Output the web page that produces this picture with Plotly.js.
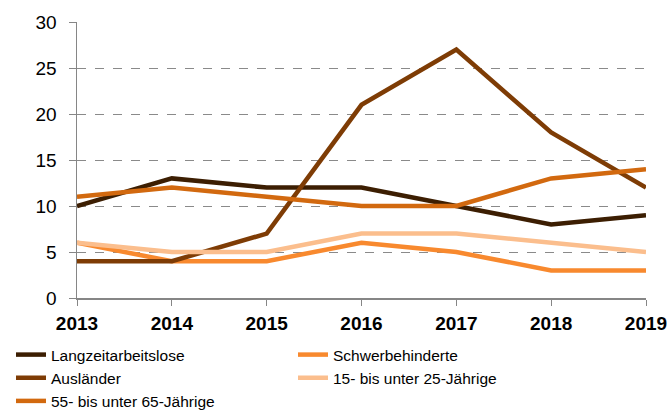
<!DOCTYPE html>
<html><head><meta charset="utf-8">
<script src="https://cdn.plot.ly/plotly-3.0.1.min.js"></script>
<style>html,body{margin:0;padding:0;background:#fff}#c{width:672px;height:410px}</style>
</head><body><div id="c"></div>
<script>
const years = [2013, 2014, 2015, 2016, 2017, 2018, 2019];
const seriesNames = ["Langzeitarbeitslose", "Schwerbehinderte", "Ausländer", "15- bis unter 25-Jährige", "55- bis unter 65-Jährige"];
const langzeit = [10, 13, 12, 12, 10, 8, 9];
const schwer = [6, 4, 4, 6, 5, 3, 3];
const auslaender = [4, 4, 7, 21, 27, 18, 12];
const jung = [6, 5, 5, 7, 7, 6, 5];
const alt = [11, 12, 11, 10, 10, 13, 14];
const colors = ["#3C1E02", "#F8892E", "#7E3C05", "#FBBE8D", "#D2690F"];
const values = [langzeit, schwer, auslaender, jung, alt];

const traces = values.map((v, i) => ({
  x: years, y: v, name: seriesNames[i], type: "scatter", mode: "lines",
  line: {color: colors[i], width: 4.5}
}));
const font = "Liberation Sans, Arial, sans-serif";
Plotly.newPlot("c", traces, {
  width: 672, height: 410,
  margin: {l: 77, r: 26, t: 22, b: 112, autoexpand: false},
  paper_bgcolor: "#fff", plot_bgcolor: "#fff",
  font: {family: font, color: "#000"},
  xaxis: {
    range: [2013, 2019], tickvals: years, ticktext: years.map(String),
    showgrid: false, zeroline: false, showline: true, linecolor: "#868686", linewidth: 1.5,
    ticks: "outside", ticklen: 6, tickcolor: "#868686", ticklabelstandoff: 2,
    tickfont: {family: font, size: 19, weight: "bold", color: "#000"}
  },
  yaxis: {
    range: [0, 30], dtick: 5, showgrid: true, gridcolor: "#8a8a8a", griddash: "dash", gridwidth: 1,
    zeroline: false, showline: true, linecolor: "#868686", linewidth: 1.5,
    ticks: "outside", ticklen: 7, tickcolor: "#868686", ticklabelstandoff: 8,
    tickfont: {family: font, size: 19, color: "#000"}
  },
  showlegend: true,
  legend: {
    orientation: "h", x: -0.116, xanchor: "left", y: -0.145, yanchor: "top",
    entrywidth: 237, entrywidthmode: "pixels",
    font: {family: font, size: 15.5, color: "#000"},
    traceorder: "normal", tracegroupgap: 0, itemwidth: 30
  }
}, {staticPlot: true});
</script></body></html>
